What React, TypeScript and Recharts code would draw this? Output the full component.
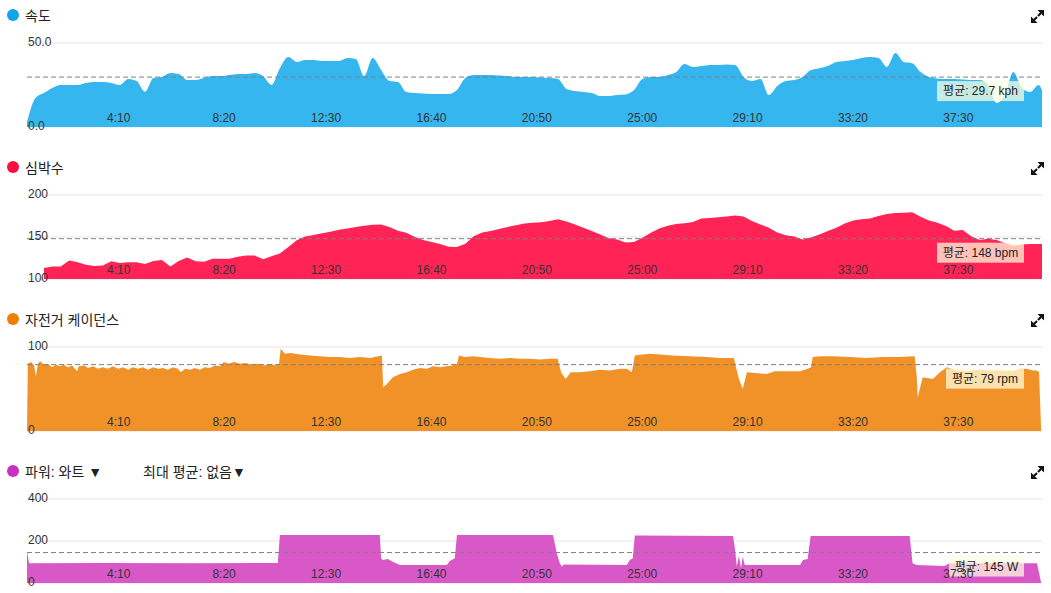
import React from 'react';
import { AreaChart, Area, XAxis, YAxis, CartesianGrid, ReferenceLine } from 'recharts';

// time axis (seconds)
const TIME_TICKS = [250, 500, 750, 1000, 1250, 1500, 1750, 2000, 2250];
const TIME_END = 2408;

// speed + heart rate are sampled every 20 s, plus the final sample
const gridSec = [...Array.from({ length: 121 }, (_, i) => i * 20), TIME_END];

const speedKph = [
  3, 17.3, 20.2, 23.2, 25, 25, 25, 26.2, 26.8, 26.8,
  26.2, 25, 28.6, 27.4, 21, 29.2, 29.8, 32.1, 31.5, 28,
  28, 29.2, 30.3, 30.3, 30.9, 31.5, 31.5, 32.1, 30.3, 25,
  35, 41.6, 38.7, 39.9, 39.9, 39.3, 39.3, 39.3, 41, 40.5,
  30.3, 41, 34, 27.4, 26.8, 20.8, 20.2, 19.9, 19.6, 19.6,
  19.6, 22, 29.2, 30.9, 30.9, 30.9, 30.6, 30.3, 29.8, 29.8,
  29.8, 29.5, 29.2, 28.6, 22.6, 21.4, 20.8, 20.2, 18.4, 18.4,
  19, 19.3, 22, 28.6, 29.8, 29.8, 30.9, 32.7, 37.5, 35.7,
  36.3, 36.9, 36.9, 37.2, 36.9, 29.8, 27.4, 28.6, 19, 24.4,
  27.4, 28, 29.8, 33.9, 35, 36.3, 38.7, 39.3, 39.9, 41,
  41.6, 41, 35.7, 44, 38.7, 38, 32.7, 29.8, 28.9, 28.6,
  28.6, 28.3, 28, 28, 25, 14.3, 19, 32.7, 23.2, 20.8,
  25, 22,
];

const heartBpm = [
  null, null, 113, 115, 115, 122, 120, 117, 115.5, 116,
  121, 119, 120, 120, 118, 121.5, 122.5, 115, 121.5, 125.5,
  121, 120.6, 124, 124, 124, 126.5, 128, 128, 123.5, 127,
  130.5, 138, 146, 150.5, 152.5, 154.5, 156.3, 158.5, 160, 162,
  163.5, 164.5, 165, 162, 157.5, 155, 150, 146.5, 144, 141.7,
  138.5, 138, 142, 151, 155.5, 157, 159.5, 162, 164, 166,
  167, 167.5, 169, 171, 168.5, 165, 161, 157, 153, 148.5,
  147, 143.5, 144, 149, 155, 160, 163.5, 165.5, 166.5, 168,
  172, 172.5, 173.5, 174.5, 175.5, 174.5, 169, 165, 161, 155.5,
  152, 150.5, 147, 149.5, 153, 157, 161, 166, 169.5, 171,
  172, 175, 177.5, 178.5, 179, 179.5, 174, 169.5, 167, 163,
  157.5, 158.3, 151, 146.5, 148, 146.5, 143, 139.5, 141, 141.7,
  141.7, 141.7,
];

const cadenceSec = [
  0, 2, 10, 17, 21, 26, 31, 40, 50, 59,
  69, 78, 88, 97, 107, 119, 123, 135, 145, 157,
  168, 180, 192, 204, 216, 228, 240, 251, 263, 275,
  287, 299, 311, 323, 334, 346, 358, 365, 375, 387,
  398, 410, 422, 434, 446, 458, 467, 479, 491, 505,
  519, 534, 548, 562, 576, 591, 598, 602, 612, 624,
  648, 671, 695, 719, 742, 766, 790, 814, 833, 842,
  845, 854, 868, 885, 901, 916, 932, 949, 963, 980,
  996, 1010, 1020, 1025, 1039, 1058, 1075, 1098, 1122, 1146,
  1169, 1193, 1217, 1241, 1259, 1267, 1278, 1290, 1312, 1335,
  1359, 1383, 1407, 1423, 1435, 1442, 1461, 1478, 1501, 1532,
  1573, 1613, 1644, 1677, 1682, 1689, 1698, 1708, 1727, 1755,
  1774, 1810, 1834, 1852, 1860, 1864, 1881, 1912, 1952, 1992,
  2030, 2071, 2106, 2111, 2113, 2125, 2149, 2166, 2182, 2206,
  2230, 2261, 2284, 2308, 2339, 2355, 2372, 2386, 2396, 2401,
  2406,
];

const cadenceRpm = [
  0, 80, 82, 78, 65, 80, 83, 79, 80, 76,
  79, 77, 79, 76, 78, 71, 77, 78, 75, 77,
  74, 76, 74, 77, 74, 76, 73, 76, 74, 76,
  73, 76, 74, 75, 73, 76, 74, 70, 74, 73,
  75, 73, 76, 75, 78, 77, 82, 80, 82, 80,
  81, 79, 80, 78, 80, 78, 80, 98, 92, 93,
  91, 90, 89, 88, 88, 87, 88, 87, 89, 90,
  52, 56, 64, 68, 70, 73, 75, 74, 77, 76,
  77, 78, 80, 90, 88, 89, 88, 87, 86, 87,
  86, 86, 85, 86, 86, 70, 62, 70, 70, 71,
  73, 72, 74, 74, 70, 90, 91, 92, 91, 90,
  89, 88, 87, 87, 76, 62, 50, 70, 69, 68,
  71, 71, 71, 74, 76, 88, 89, 89, 88, 87,
  88, 88, 89, 64, 40, 64, 62, 70, 76, 72,
  71, 73, 72, 72, 71, 74, 74, 72, 72, 70,
  0,
];

const powerSec = [
  0, 5, 173, 410, 595, 600, 648, 837, 840, 844,
  856, 868, 885, 996, 1003, 1015, 1020, 1248, 1257, 1264,
  1269, 1274, 1423, 1430, 1437, 1442, 1675, 1679, 1684, 1689,
  1694, 1698, 1703, 1834, 1841, 1852, 1859, 2094, 2101, 2111,
  2177, 2188, 2396, 2401, 2406,
];

const powerW = [
  150, 94, 95, 94, 95, 228, 229, 228, 118, 110,
  114, 101, 86, 86, 105, 118, 228, 228, 141, 94,
  78, 88, 86, 110, 117, 226, 224, 173, 78, 128,
  71, 125, 86, 86, 110, 114, 224, 224, 94, 86,
  81, 94, 94, 50, 0,
];

const zip = (t: number[], v: (number | null)[]) => t.map((s, i) => ({ t: s, v: v[i] }));

const PANEL_H = 152;
const PLOT_TOP = 43;
const PLOT_H = 84;
// axes get 1px each (recharts skips axes of zero size), margins make up the rest
const MARGIN = { top: PLOT_TOP, right: 9, bottom: PANEL_H - PLOT_TOP - PLOT_H - 1, left: 26 };
const FONT = '"Liberation Sans", Arial, "Noto Sans CJK KR", sans-serif';

const fmtTime = (s: number) => `${Math.floor(s / 60)}:${String(s % 60).padStart(2, '0')}`;

const XTick = ({ x, payload }: any) => (
  <text x={x - 2} y={PLOT_TOP + PLOT_H - 9} textAnchor="end" dominantBaseline="central" fontSize={12} fill="#333">
    {fmtTime(payload.value)}
  </text>
);

const makeYTick = (fmt: (v: number) => string) => ({ y, payload }: any) => (
  <text x={28} y={y - 1.5} textAnchor="start" dominantBaseline="central" fontSize={12} fill="#333">
    {fmt(payload.value)}
  </text>
);

const AvgBox = ({ viewBox, text, w }: any) => {
  if (!viewBox) return null;
  const right = viewBox.x + viewBox.width - 18;
  const top = viewBox.y + 4;
  return (
    <g>
      <rect x={right - w} y={top} width={w} height={20} fill="rgba(255,255,224,0.72)" />
      <text x={right - w / 2} y={top + 10} textAnchor="middle" dominantBaseline="central" fontSize={12} fill="#222">
        {text}
      </text>
    </g>
  );
};

const ExpandIcon = () => (
  <svg width={13} height={13} style={{ position: 'absolute', left: 1031, top: 10 }}>
    <path d="M6.5,0 L13,0 L13,6.5 Z" fill="#111" />
    <path d="M0,6.5 L0,13 L6.5,13 Z" fill="#111" />
    <line x1={7} y1={6} x2={10} y2={3} stroke="#111" strokeWidth={2.2} />
    <line x1={3} y1={10} x2={6} y2={7} stroke="#111" strokeWidth={2.2} />
  </svg>
);

interface PanelProps {
  index: number;
  title: React.ReactNode;
  dot: string;
  fill: string;
  data: { t: number; v: number | null }[];
  domain: [number, number];
  ticks: number[];
  yFmt: (v: number) => string;
  avg: number;
  avgText: string;
  boxW: number;
  curve: 'monotone' | 'linear';
}

const Panel = ({ index, title, dot, fill, data, domain, ticks, yFmt, avg, avgText, boxW, curve }: PanelProps) => (
  <div style={{ position: 'absolute', left: 0, top: index * PANEL_H, width: 1051, height: PANEL_H }}>
    <div style={{ position: 'absolute', left: 7, top: 7, height: 16, display: 'flex', alignItems: 'center', fontSize: 14, color: '#222', whiteSpace: 'nowrap', zIndex: 1 }}>
      <span style={{ display: 'inline-block', width: 12, height: 12, borderRadius: 6, background: dot, marginRight: 6 }} />
      {title}
    </div>
    <ExpandIcon />
    <AreaChart width={1051} height={PANEL_H} data={data} margin={MARGIN}>
      <CartesianGrid vertical={false} stroke="#e4e4e4" />
      <Area
        type={curve}
        dataKey="v"
        fill={fill}
        fillOpacity={1}
        stroke="none"
        isAnimationActive={false}
        dot={false}
        activeDot={false}
      />
      <ReferenceLine y={avg} stroke="#808080" strokeDasharray="5 3" label={<AvgBox text={avgText} w={boxW} />} />
      <XAxis
        dataKey="t"
        type="number"
        domain={[0, TIME_END]}
        ticks={TIME_TICKS}
        interval={0}
        height={1}
        axisLine={false}
        tickLine={false}
        tick={<XTick />}
      />
      <YAxis
        type="number"
        domain={domain}
        ticks={ticks}
        interval={0}
        width={1}
        axisLine={false}
        tickLine={false}
        allowDataOverflow
        tick={makeYTick(yFmt)}
      />
    </AreaChart>
  </div>
);

export default function App() {
  return (
    <div style={{ position: 'absolute', left: 0, top: 0, width: 1051, height: 593, background: '#fff', fontFamily: FONT }}>
      <Panel
        index={0}
        title="속도"
        dot="#14a3e8"
        fill="#35b6ef"
        data={zip(gridSec, speedKph)}
        domain={[0, 50]}
        ticks={[0, 50]}
        yFmt={(v) => v.toFixed(1)}
        avg={29.7}
        avgText="평균: 29.7 kph"
        boxW={87}
        curve="monotone"
      />
      <Panel
        index={1}
        title="심박수"
        dot="#ff0d3f"
        fill="#ff2455"
        data={zip(gridSec, heartBpm)}
        domain={[100, 200]}
        ticks={[100, 150, 200]}
        yFmt={(v) => String(v)}
        avg={148}
        avgText="평균: 148 bpm"
        boxW={87}
        curve="linear"
      />
      <Panel
        index={2}
        title="자전거 케이던스"
        dot="#ef7d00"
        fill="#f09228"
        data={zip(cadenceSec, cadenceRpm)}
        domain={[0, 100]}
        ticks={[0, 100]}
        yFmt={(v) => String(v)}
        avg={79}
        avgText="평균: 79 rpm"
        boxW={78}
        curve="linear"
      />
      <Panel
        index={3}
        title={
          <>
            <span>파워: 와트 ▼</span>
            <span style={{ position: 'absolute', left: 136 }}>최대 평균: 없음▼</span>
          </>
        }
        dot="#cc2ebf"
        fill="#d958c8"
        data={zip(powerSec, powerW)}
        domain={[0, 400]}
        ticks={[0, 200, 400]}
        yFmt={(v) => String(v)}
        avg={145}
        avgText="평균: 145 W"
        boxW={75}
        curve="linear"
      />
    </div>
  );
}
